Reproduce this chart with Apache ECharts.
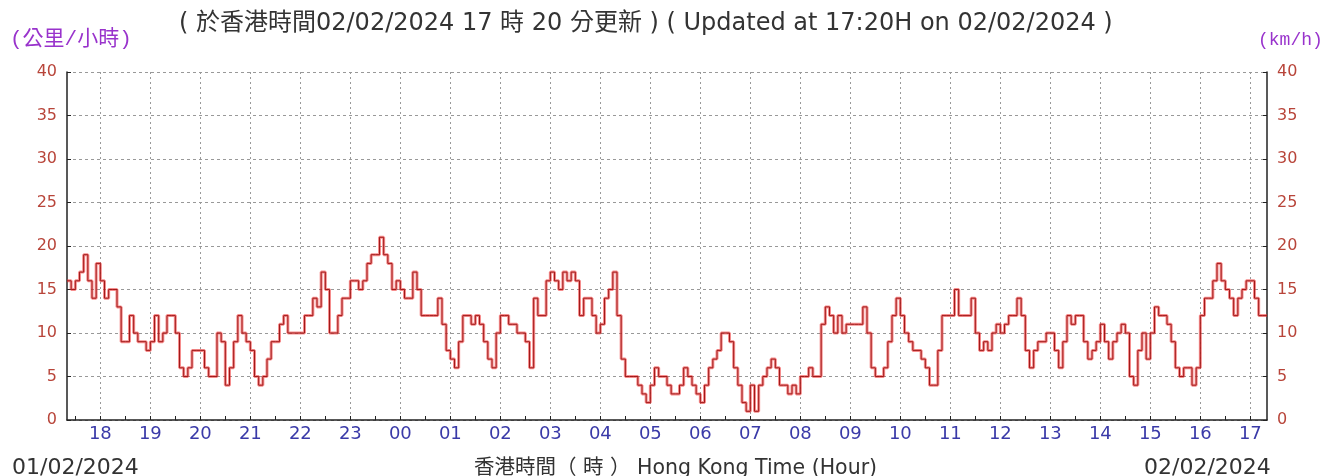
<!DOCTYPE html>
<html>
<head>
<meta charset="utf-8">
<script src="https://cdn.jsdelivr.net/npm/echarts@6/dist/echarts.min.js"></script>
<style>
html,body{margin:0;padding:0;background:#fff;}
#chart{width:1327px;height:476px;}
</style>
</head>
<body>
<div id="chart"></div>
<script>
// 5-minute samples from 01/02/2024 17:20 to 02/02/2024 17:20 (km/h)
const startMinute = 17 * 60 + 20;
const stepMinutes = 5;
const speeds = [
  16,15,16,17,19,16,14,18,16,14,15,15,13,9,9,12,10,9,9,8,
  9,12,9,10,12,12,10,6,5,6,8,8,8,6,5,5,10,9,4,6,
  9,12,10,9,8,5,4,5,7,9,9,11,12,10,10,10,10,12,12,14,
  13,17,15,10,10,12,14,14,16,16,15,16,18,19,19,21,19,18,15,16,
  15,14,14,17,15,12,12,12,12,14,11,8,7,6,9,12,12,11,12,11,
  9,7,6,10,12,12,11,11,10,10,9,6,14,12,12,16,17,16,15,17,
  16,17,16,12,14,14,12,10,11,14,15,17,12,7,5,5,5,4,3,2,
  4,6,5,5,4,3,3,4,6,5,4,3,2,4,6,7,8,10,10,9,
  6,4,2,1,4,1,4,5,6,7,6,4,4,3,4,3,5,5,6,5,
  5,11,13,12,10,12,10,11,11,11,11,13,10,6,5,5,6,9,12,14,
  12,10,9,8,8,7,6,4,4,8,12,12,12,15,12,12,12,14,10,8,
  9,8,10,11,10,11,12,12,14,12,8,6,8,9,9,10,10,8,6,9,
  12,11,12,12,9,7,8,9,11,9,7,9,10,11,10,5,4,8,10,7,
  10,13,12,12,11,9,6,5,6,6,4,6,12,14,14,16,18,16,15,14,
  12,14,15,16,16,14,12,12,12
];
const yTicks = [0,5,10,15,20,25,30,35,40];
const titleText = '( 於香港時間02/02/2024 17 時 20 分更新 ) ( Updated at 17:20H on 02/02/2024 )';
const leftUnit = '(公里/小時)';
const rightUnit = '(km/h)';
const xName = '香港時間（ 時 ） Hong Kong Time (Hour)';
const startDate = '01/02/2024';
const endDate = '02/02/2024';

const times = speeds.map((_, i) => {
  const m = (startMinute + i * stepMinutes) % 1440;
  const hh = String(Math.floor(m / 60)).padStart(2, '0');
  const mm = String(m % 60).padStart(2, '0');
  return hh + ':' + mm;
});

const chart = echarts.init(document.getElementById('chart'));
const yAxisCommon = {
  type: 'value', min: yTicks[0], max: yTicks[yTicks.length - 1], interval: 5,
  axisLine: {show: true, lineStyle: {color: '#222', width: 1.5}},
  axisTick: {show: true, inside: true, length: 4, lineStyle: {color: '#222'}},
  axisLabel: {color: '#b8453a', fontSize: 16, fontFamily: 'DejaVu Sans', margin: 10},
};
chart.setOption({
  animation: false,
  backgroundColor: '#ffffff',
  title: [
    {text: titleText, left: 174, top: 7, textStyle: {fontSize: 24, fontWeight: 'normal', color: '#333', fontFamily: 'DejaVu Sans, Noto Sans CJK TC'}},
    {text: leftUnit, left: 5, top: 24, textStyle: {fontSize: 21, fontWeight: 'normal', color: '#9933cc', fontFamily: 'Liberation Mono, Noto Sans CJK TC'}},
    {text: rightUnit, left: 1253, top: 26, textStyle: {fontSize: 18, fontWeight: 'normal', color: '#9933cc', fontFamily: 'Liberation Mono'}},
    {text: startDate, left: 7, top: 452, textStyle: {fontSize: 22, fontWeight: 'normal', color: '#333', fontFamily: 'DejaVu Sans'}},
    {text: xName, left: 469, top: 453, textStyle: {fontSize: 20.5, fontWeight: 'normal', color: '#333', fontFamily: 'DejaVu Sans, Noto Sans CJK TC'}},
    {text: endDate, left: 1139, top: 452, textStyle: {fontSize: 22, fontWeight: 'normal', color: '#333', fontFamily: 'DejaVu Sans'}}
  ],
  grid: {left: 67, right: 60, top: 72, bottom: 56, containLabel: false},
  xAxis: {
    type: 'category', data: times, boundaryGap: false,
    axisLine: {show: true, lineStyle: {color: '#222', width: 1.5}},
    axisTick: {show: true, inside: true, length: 4, lineStyle: {color: '#222'},
      interval: (i, v) => v.endsWith(':00') || v.endsWith(':30')},
    axisLabel: {color: '#3a3aa8', fontSize: 18, fontFamily: 'DejaVu Sans', margin: 5,
      interval: (i, v) => v.endsWith(':00'), formatter: v => v.slice(0, 2)},
    splitLine: {show: true, interval: (i, v) => v.endsWith(':00'),
      lineStyle: {color: '#999', type: [2, 3], width: 1}}
  },
  yAxis: [
    Object.assign({}, yAxisCommon, {position: 'left',
      splitLine: {show: true, lineStyle: {color: '#999', type: [3, 3], width: 1}}}),
    Object.assign({}, yAxisCommon, {position: 'right', splitLine: {show: false}})
  ],
  series: [
    {type: 'line', data: speeds, step: 'end', showSymbol: false, yAxisIndex: 0,
      lineStyle: {color: '#ee3030', width: 3, opacity: 0.55}, z: 2},
    {type: 'line', data: speeds, step: 'end', showSymbol: false, yAxisIndex: 0,
      lineStyle: {color: '#a01a1a', width: 1}, z: 3}
  ]
});
</script>
</body>
</html>
